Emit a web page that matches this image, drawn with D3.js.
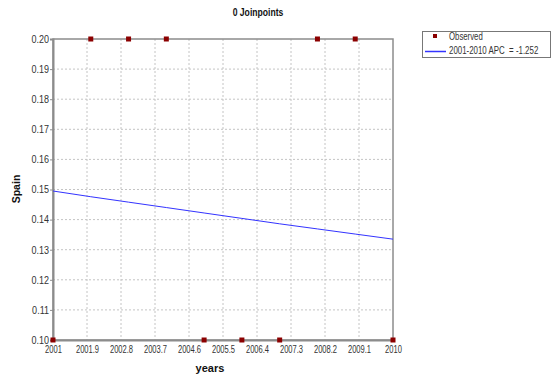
<!DOCTYPE html>
<html><head><meta charset="utf-8">
<script src="https://cdn.jsdelivr.net/npm/d3@7"></script>
<style>
body{margin:0;background:#fff;}
svg{display:block;font-family:"Liberation Sans",Arial,sans-serif;}
</style></head>
<body><svg id="c" width="554" height="379"></svg>
<script>
const years = [2001,2002,2003,2004,2005,2006,2007,2008,2009,2010];
const observed = [0.10,0.20,0.20,0.20,0.10,0.10,0.10,0.20,0.20,0.10];
const fitted = [0.1495,0.1476,0.1458,0.1440,0.1422,0.1404,0.1386,0.1369,0.1352,0.1335];
const xTicks = [2001,2001.9,2002.8,2003.7,2004.6,2005.5,2006.4,2007.3,2008.2,2009.1,2010];
const yTicks = [0.10,0.11,0.12,0.13,0.14,0.15,0.16,0.17,0.18,0.19,0.20];
const title = "0 Joinpoints";
const xLabel = "years", yLabel = "Spain";
const legendObs = "Observed", legendFit = "2001-2010 APC  = -1.252";

const svg = d3.select("#c");
const L=53,R=393,T=39,B=340;
const x = d3.scaleLinear().domain([2001,2010]).range([L,R]);
const y = d3.scaleLinear().domain([0.10,0.20]).range([B,T]);

function squeeze(sel,k){
  sel.each(function(){
    const t=d3.select(this); const px=+t.attr("x")||0;
    t.attr("transform",`translate(${px},0) scale(${k},1) translate(${-px},0)`);
  });
}

// gridlines
svg.append("g").selectAll("line").data(xTicks.slice(1,-1)).join("line")
  .attr("x1",d=>x(d)).attr("x2",d=>x(d)).attr("y1",T).attr("y2",B)
  .attr("stroke","#c4c4c4").attr("stroke-dasharray","2,2").attr("stroke-width",1);
svg.append("g").selectAll("line").data(yTicks.slice(1,-1)).join("line")
  .attr("x1",L).attr("x2",R).attr("y1",d=>y(d)).attr("y2",d=>y(d))
  .attr("stroke","#c4c4c4").attr("stroke-dasharray","2,2").attr("stroke-width",1);

// frame
svg.append("rect").attr("x",L).attr("y",T).attr("width",R-L).attr("height",B-T)
  .attr("fill","none").attr("stroke","#8c8c8c").attr("stroke-width",1.5);

// axes
const xAxis = svg.append("g").attr("transform",`translate(0,${B})`)
  .call(d3.axisBottom(x).tickValues(xTicks).tickFormat(d=>d3.format("")(+d.toFixed(1))).tickSize(0).tickPadding(6));
const yAxis = svg.append("g").attr("transform",`translate(${L},0)`)
  .call(d3.axisLeft(y).tickValues(yTicks).tickFormat(d3.format(".2f")).tickSize(3).tickPadding(1));
[xAxis,yAxis].forEach(a=>{
  a.select(".domain").attr("stroke","#8c8c8c").attr("stroke-width",2);
  a.selectAll(".tick line").attr("stroke","#8c8c8c");
  a.selectAll("text").attr("font-size",10.5).attr("fill","#333").attr("font-family",null);
});
squeeze(xAxis.selectAll("text"),0.72);
squeeze(yAxis.selectAll("text"),0.86);

// fitted line
svg.append("path").datum(years.map((d,i)=>[d,fitted[i]]))
  .attr("d",d3.line().x(d=>x(d[0])).y(d=>y(d[1])))
  .attr("fill","none").attr("stroke","#3333ff").attr("stroke-width",1);

// observed points
svg.append("g").selectAll("rect").data(years.map((d,i)=>[d,observed[i]])).join("rect")
  .attr("x",d=>x(d[0])-2.5).attr("y",d=>y(d[1])-2.5).attr("width",5).attr("height",5)
  .attr("fill","#8b0000");

// title & labels
svg.append("text").attr("x",258).attr("y",16).attr("text-anchor","middle")
  .attr("font-size",10.5).attr("font-weight","bold").attr("fill","#111").text(title)
  .call(s=>squeeze(s,0.82));
svg.append("text").attr("x",210).attr("y",372).attr("text-anchor","middle")
  .attr("font-size",11).attr("font-weight","bold").attr("fill","#111").text(xLabel);
svg.append("text").attr("transform","translate(20,189) rotate(-90)").attr("text-anchor","middle")
  .attr("font-size",10.5).attr("font-weight","bold").attr("fill","#111").text(yLabel);

// legend
const lg = svg.append("g");
lg.append("rect").attr("x",422.5).attr("y",31.5).attr("width",128).attr("height",26)
  .attr("fill","#fff").attr("stroke","#777");
lg.append("rect").attr("x",433).attr("y",34).attr("width",4).attr("height",4).attr("fill","#8b0000");
lg.append("text").attr("x",449).attr("y",40).attr("font-size",10).attr("fill","#333").text(legendObs)
  .call(s=>squeeze(s,0.78));
lg.append("line").attr("x1",425).attr("x2",446).attr("y1",51.5).attr("y2",51.5).attr("stroke","#3333ff").attr("stroke-width",1.5);
lg.append("text").attr("x",449).attr("y",54).attr("font-size",10).attr("fill","#333").attr("xml:space","preserve").text(legendFit)
  .call(s=>squeeze(s,0.79));
</script></body></html>
